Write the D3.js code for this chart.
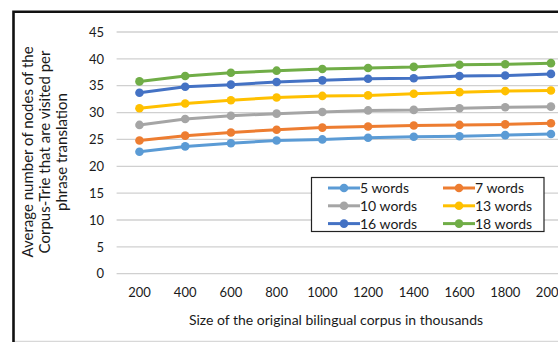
<!DOCTYPE html>
<html>
<head>
<meta charset="utf-8">
<script src="https://cdn.jsdelivr.net/npm/d3@7"></script>
<style>
  html, body { margin: 0; padding: 0; background: #fff; }
  svg { display: block; }
  text { font-family: Lato, "Open Sans", sans-serif; fill: #1a1a1a; }
</style>
</head>
<body>
<svg id="chart" width="558" height="342"></svg>
<script>
// Corpus sizes (thousands of sentence pairs)
const sizes = [200, 400, 600, 800, 1000, 1200, 1400, 1600, 1800, 2000];
const yTicks = [0, 5, 10, 15, 20, 25, 30, 35, 40, 45];

// Average visited Corpus-Trie nodes per phrase, by phrase length
const words5  = [22.7, 23.7, 24.3, 24.8, 25.0, 25.3, 25.5, 25.6, 25.8, 26.0];
const words7  = [24.8, 25.7, 26.3, 26.8, 27.2, 27.4, 27.6, 27.7, 27.8, 28.0];
const words10 = [27.7, 28.8, 29.4, 29.8, 30.1, 30.4, 30.5, 30.8, 31.0, 31.1];
const words13 = [30.8, 31.7, 32.3, 32.8, 33.1, 33.2, 33.5, 33.8, 34.0, 34.1];
const words16 = [33.7, 34.8, 35.2, 35.7, 36.0, 36.3, 36.4, 36.8, 36.9, 37.2];
const words18 = [35.8, 36.8, 37.4, 37.8, 38.1, 38.3, 38.5, 38.9, 39.0, 39.2];

const seriesNames = ["5 words", "7 words", "10 words", "13 words", "16 words", "18 words"];
const seriesValues = [words5, words7, words10, words13, words16, words18];
const seriesColors = ["#5B9BD5", "#ED7D31", "#A5A5A5", "#FFC000", "#4472C4", "#70AD47"];

const svg = d3.select("#chart");

const x = d3.scaleBand().domain(sizes).range([116.6, 573.8]);
const y = d3.scaleLinear().domain([0, 45]).range([273.7, 32]);
const cx = d => x(d) + x.bandwidth() / 2;

// Frame around the figure
svg.append("line")
  .attr("x1", 13).attr("x2", 560).attr("y1", 341.3).attr("y2", 341.3)
  .attr("stroke", "#d8d8d8").attr("stroke-width", 1.2);
svg.append("path")
  .attr("d", "M13.5,343 V11.8 H560")
  .attr("fill", "none").attr("stroke", "#111").attr("stroke-width", 2.6);

// Horizontal gridlines
svg.append("g")
  .selectAll("line")
  .data(yTicks)
  .join("line")
  .attr("x1", x.range()[0]).attr("x2", x.range()[1])
  .attr("y1", d => y(d)).attr("y2", d => y(d))
  .attr("stroke", "#d0d0d0").attr("stroke-width", 1.3);

// Y axis labels
const yAxis = d3.axisLeft(y).tickValues(yTicks).tickSize(0).tickPadding(0);
svg.append("g")
  .attr("transform", "translate(104,0)")
  .call(yAxis)
  .call(g => g.select(".domain").remove())
  .call(g => g.selectAll("text").attr("font-size", 13).attr("font-family", "Lato, sans-serif").attr("fill", "#333"));

// X axis labels
const xAxis = d3.axisBottom(x).tickSize(0).tickPadding(0);
svg.append("g")
  .attr("transform", "translate(0,288)")
  .call(xAxis)
  .call(g => g.select(".domain").remove())
  .call(g => g.selectAll("text").attr("font-size", 13).attr("font-family", "Lato, sans-serif").attr("fill", "#333"));

// Axis titles
svg.append("text")
  .attr("x", 336).attr("y", 325)
  .attr("text-anchor", "middle")
  .attr("font-size", 14)
  .text("Size of the original bilingual corpus in thousands");

const yTitle = ["Average number of nodes of the", "Corpus-Trie that are visited per", "phrase translation"];
svg.append("g")
  .attr("transform", "translate(33,152) rotate(-90)")
  .selectAll("text")
  .data(yTitle)
  .join("text")
  .attr("x", 0)
  .attr("y", (d, i) => i * 17)
  .attr("text-anchor", "middle")
  .attr("font-size", 15)
  .text(d => d);

// Series lines and markers
const line = d3.line().x((d, i) => cx(sizes[i])).y(d => y(d));
const series = svg.append("g")
  .selectAll("g")
  .data(seriesValues.map((v, i) => ({ name: seriesNames[i], values: v, color: seriesColors[i] })))
  .join("g");
series.append("path")
  .attr("d", d => line(d.values))
  .attr("fill", "none")
  .attr("stroke", d => d.color)
  .attr("stroke-width", 3)
  .attr("stroke-linejoin", "round");
series.selectAll("circle")
  .data(d => d.values.map((v, i) => ({ v, i, color: d.color })))
  .join("circle")
  .attr("cx", d => cx(sizes[d.i]))
  .attr("cy", d => y(d.v))
  .attr("r", 4.3)
  .attr("fill", d => d.color);

// Legend
const legend = svg.append("g");
legend.append("rect")
  .attr("x", 311.5).attr("y", 177.5).attr("width", 232.5).attr("height", 54)
  .attr("fill", "#fff").attr("stroke", "#222").attr("stroke-width", 1.2);
const items = legend.selectAll("g.item")
  .data(seriesNames.map((n, i) => ({ name: n, color: seriesColors[i], col: i % 2, row: Math.floor(i / 2) })))
  .join("g")
  .attr("class", "item")
  .attr("transform", d => `translate(${d.col ? 443 : 328},${188 + d.row * 17.8})`);
items.append("line")
  .attr("x1", 0).attr("x2", 32).attr("y1", 0).attr("y2", 0)
  .attr("stroke", d => d.color).attr("stroke-width", 3);
items.append("circle")
  .attr("cx", 16).attr("cy", 0).attr("r", 4.3)
  .attr("fill", d => d.color);
items.append("text")
  .attr("x", 32).attr("y", 5)
  .attr("font-size", 14)
  .text(d => d.name);
</script>
</body>
</html>
